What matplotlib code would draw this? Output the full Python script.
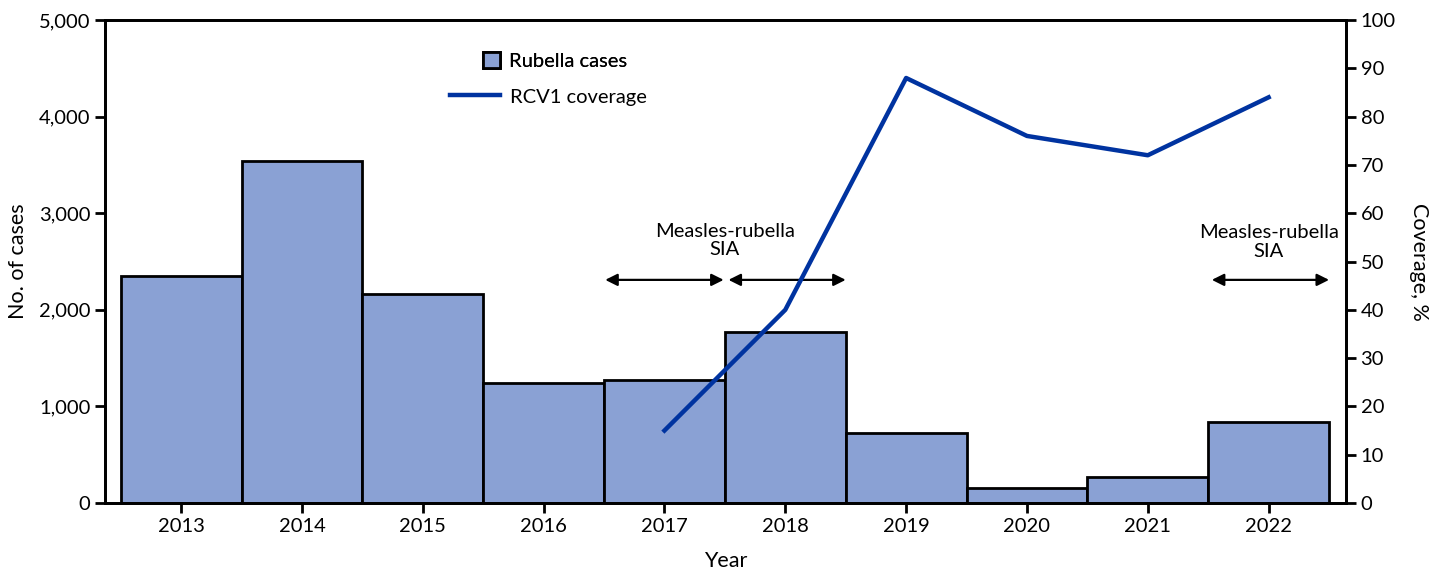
import matplotlib.pyplot as plt
from matplotlib.patches import Patch
from matplotlib.lines import Line2D
import numpy as np

plt.rcParams['font.family'] = ['Lato', 'DejaVu Sans']

years = ['2013', '2014', '2015', '2016', '2017', '2018', '2019', '2020', '2021', '2022']
cases = [2350, 3540, 2160, 1240, 1270, 1770, 720, 160, 270, 840]
cov_years = ['2017', '2018', '2019', '2020', '2021', '2022']
coverage = [15, 40, 88, 76, 72, 84]

bar_color = '#8AA1D4'
line_color = '#0033A0'
fs = 14.5

fig = plt.figure(figsize=(14.42, 5.72), dpi=100)
ax = fig.add_axes([0.0728, 0.1206, 0.8606, 0.8444])
x = np.arange(len(years))
ax.bar(x, cases, width=1.0, color=bar_color, edgecolor='black', linewidth=2, zorder=2)
ax.set_xlim(-0.63, 9.64)
ax.set_ylim(0, 5000)
ax.set_yticks(range(0, 5001, 1000))
ax.set_yticklabels([f'{v:,}' for v in range(0, 5001, 1000)])
ax.set_xticks(x)
ax.set_xticklabels(years)
ax.set_ylabel('No. of cases', fontsize=15.5, labelpad=8)
ax.set_xlabel('Year', fontsize=15.5, labelpad=12)
for s in ax.spines.values():
    s.set_linewidth(2)
ax.tick_params(axis='both', labelsize=fs, width=2, length=7)

ax2 = ax.twinx()
cx = [years.index(y) for y in cov_years]
ax2.plot(cx, coverage, color=line_color, linewidth=3.2, zorder=3)
ax2.set_ylim(0, 100)
ax2.set_yticks(range(0, 101, 10))
ax2.set_ylabel('Coverage, %', fontsize=15.5, rotation=270, labelpad=24)
ax2.tick_params(axis='y', labelsize=fs, width=2, length=7)
for s in ax2.spines.values():
    s.set_linewidth(2)

# SIA arrows
arr = dict(arrowstyle='<|-|>', color='black', lw=1.6, mutation_scale=18,
           shrinkA=0, shrinkB=0)
for a, b in [(3.51, 4.49), (4.53, 5.5), (8.53, 9.5)]:
    ax.annotate('', xy=(a, 2310), xytext=(b, 2310), arrowprops=arr)
ax.text(4.5, 2720, 'Measles-rubella\nSIA', ha='center', va='center',
        fontsize=fs, linespacing=1.1)
ax.text(9.0, 2700, 'Measles-rubella\nSIA', ha='center', va='center',
        fontsize=fs, linespacing=1.1)

# legend, two pieces so the handles line up like the original
leg1 = fig.legend([Patch(facecolor=bar_color, edgecolor='black', linewidth=2)],
                  ['Rubella cases'], loc='center left',
                  bbox_to_anchor=(483 / 1442, 1 - 61 / 572), frameon=False,
                  fontsize=fs, handlelength=0.85, handleheight=0.85,
                  handletextpad=0.45, borderpad=0, borderaxespad=0)
fig.add_artist(leg1)
fig.legend([Line2D([], [], color=line_color, linewidth=3.2)], ['RCV1 coverage'],
           loc='center left', bbox_to_anchor=(450 / 1442, 1 - 97 / 572),
           frameon=False, fontsize=fs, handlelength=2.5, handletextpad=0.5,
           borderpad=0, borderaxespad=0)

fig.savefig('out.png', dpi=100)
